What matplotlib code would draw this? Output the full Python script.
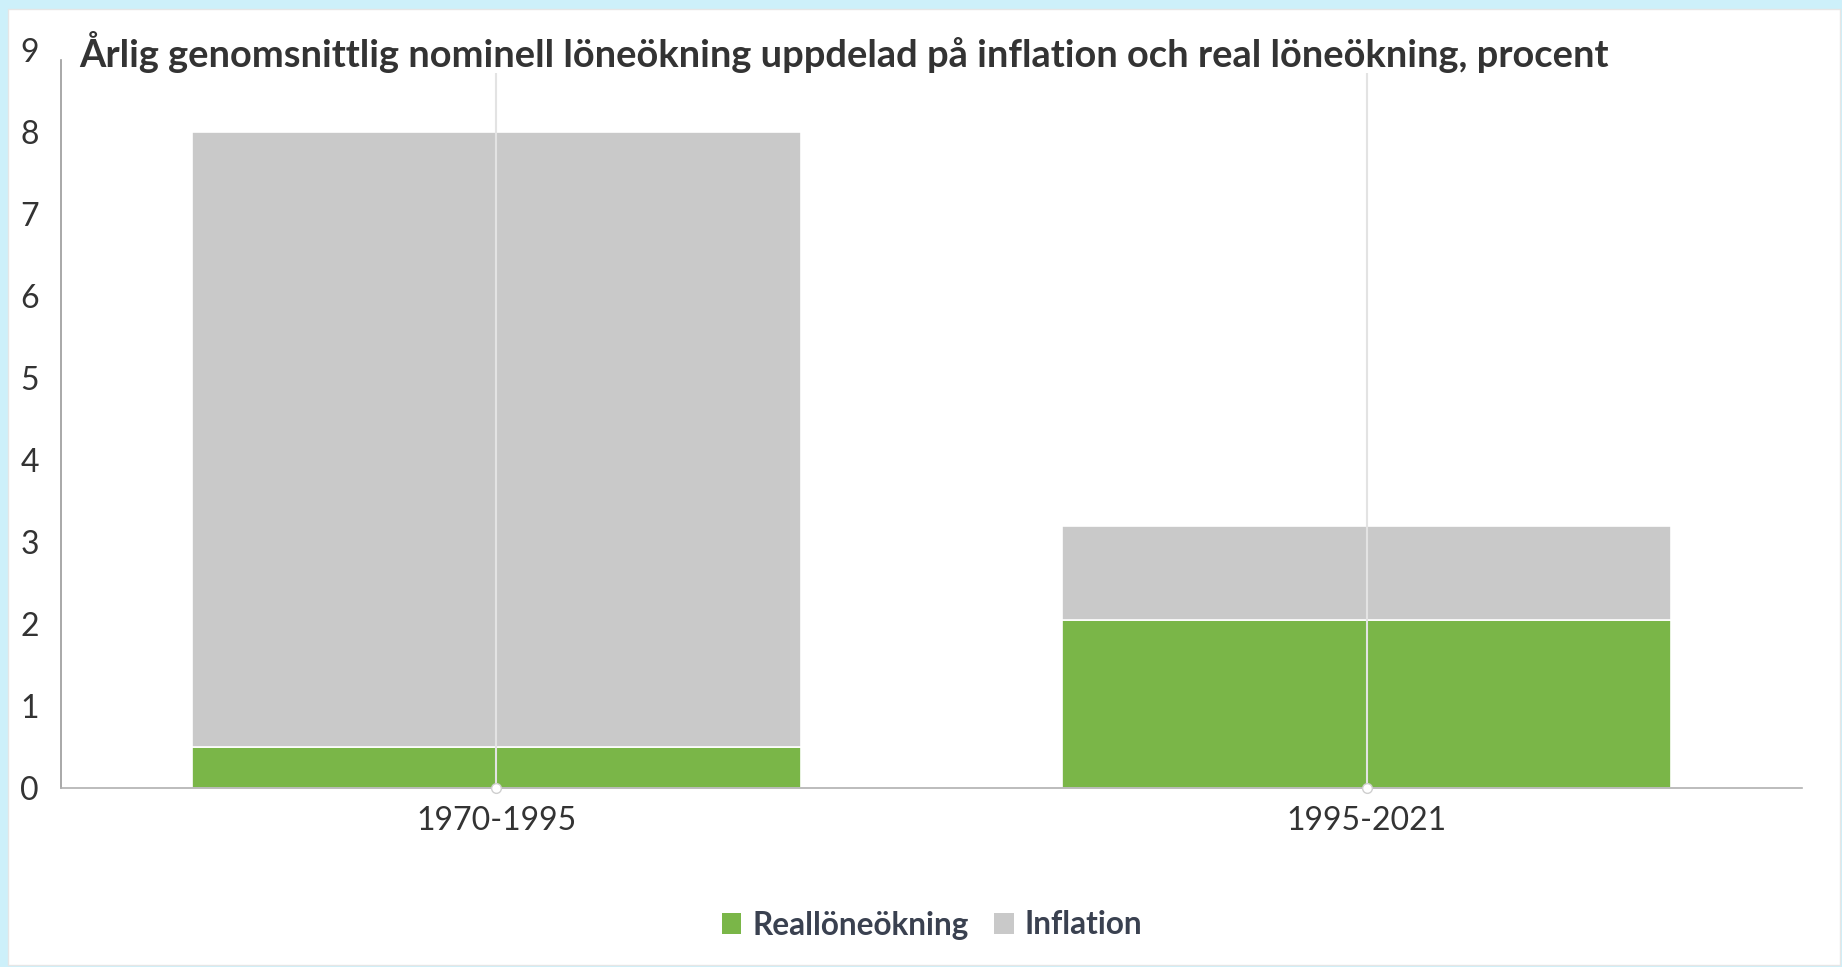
import matplotlib
matplotlib.use("Agg")
import matplotlib.pyplot as plt
from matplotlib.patches import Patch, Rectangle

# Data: annual average nominal wage growth split into real growth and inflation
periods = ["1970-1995", "1995-2021"]
real_growth = [0.5, 2.05]
inflation = [7.5, 1.15]
yticks = list(range(0, 10))

title = "Årlig genomsnittlig nominell löneökning uppdelad på inflation och real löneökning, procent"
green = "#7ab648"
grey = "#c9c9c9"
text_col = "#333333"

plt.rcParams["font.family"] = ["Lato", "DejaVu Sans"]

W, H = 1842, 967
fig = plt.figure(figsize=(W / 100, H / 100), dpi=100)
fig.patch.set_facecolor("#cdf0fa")

# white card on top of the light blue page
card = Rectangle((8 / W, 2 / H), (1840 - 8) / W, (965 - 9) / H,
                 transform=fig.transFigure, facecolor="white",
                 edgecolor="#e6e6e6", linewidth=1, zorder=-10)
fig.patches.append(card)

ax = fig.add_axes([61 / W, (H - 788) / H, (1802 - 61) / W, (788 - 50) / H])
ax.set_facecolor("none")

x = list(range(len(periods)))
ax.bar(x, real_growth, width=0.7, color=green, edgecolor="white",
       linewidth=1.2, zorder=2)
ax.bar(x, inflation, bottom=real_growth, width=0.7, color=grey,
       edgecolor="white", linewidth=1.2, zorder=2)

# vertical grid lines through each category, drawn above the bars
ax.vlines(x, 0, 8.72, color="#e3e3e3", linewidth=1.5, zorder=3)
ax.plot(x, [0] * len(x), "o", markersize=7, markerfacecolor="white",
        markeredgecolor="#cfcfcf", markeredgewidth=1, clip_on=False, zorder=5)

ax.set_xlim(-0.5, 1.5)
ax.set_ylim(0, 9)
ax.set_yticks(yticks)
ax.set_xticks(x)
ax.set_xticklabels(periods)
ax.tick_params(axis="both", length=0, labelsize=23, colors=text_col)
ax.tick_params(axis="y", pad=16)
ax.tick_params(axis="x", pad=13)

for side in ["top", "right"]:
    ax.spines[side].set_visible(False)
ax.spines["left"].set_color("#9a9a9a")
ax.spines["left"].set_bounds(0, 8.88)
ax.spines["bottom"].set_color("#b0b0b0")
ax.spines["left"].set_linewidth(1.2)
ax.spines["bottom"].set_linewidth(1.2)

fig.text(79 / W, (H - 52) / H, title, ha="left", va="center",
         fontsize=27.4, fontweight="bold", color=text_col)

handles = [Patch(facecolor=green, edgecolor="none", label="Reallöneökning"),
           Patch(facecolor=grey, edgecolor="none", label="Inflation")]
leg = fig.legend(handles=handles, loc="center", bbox_to_anchor=(932 / W, (H - 925) / H),
                 ncol=2, frameon=False, fontsize=22.7, handlelength=0.62,
                 handleheight=0.62, handletextpad=0.35, columnspacing=0.8)
for t in leg.get_texts():
    t.set_color("#3a4150")
    t.set_fontweight("bold")

fig.savefig("out.png", dpi=100, facecolor=fig.get_facecolor())
